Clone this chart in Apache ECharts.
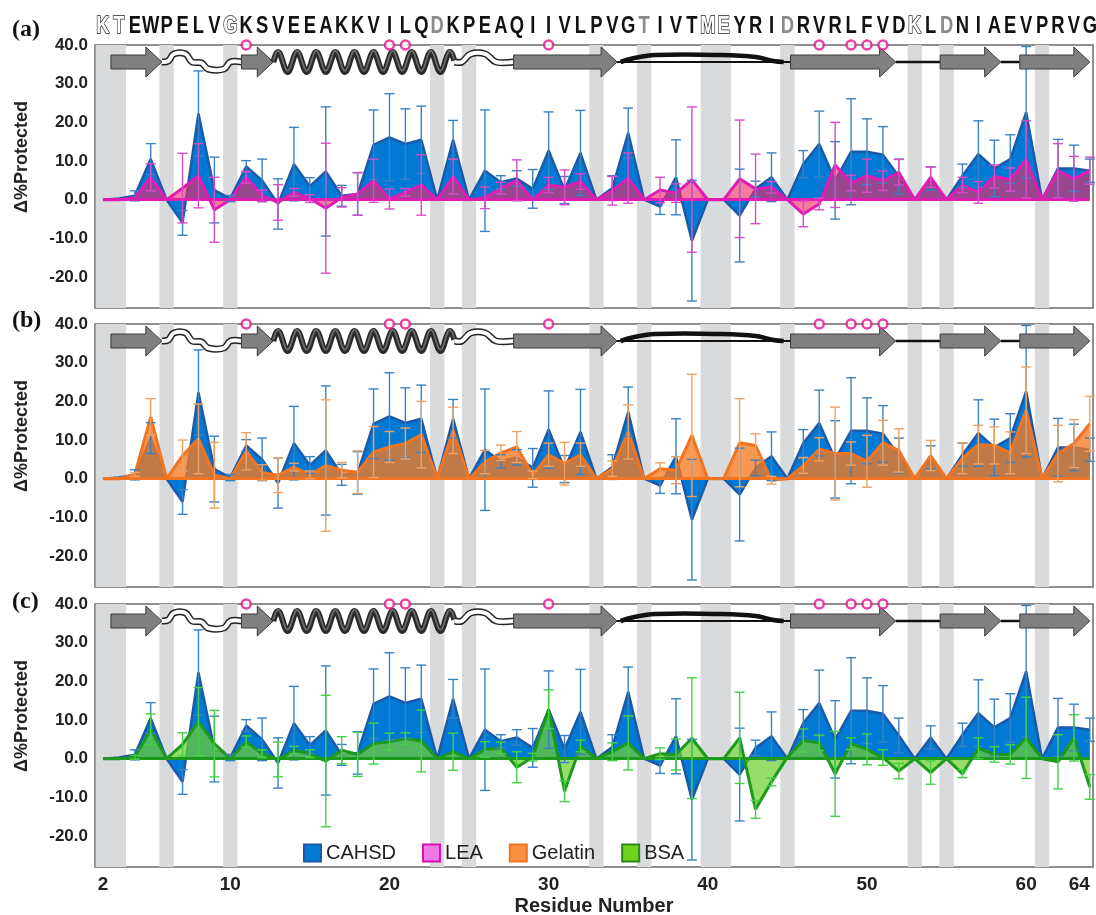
<!DOCTYPE html>
<html>
<head>
<meta charset="utf-8">
<script src="https://cdn.jsdelivr.net/npm/echarts@6/dist/echarts.min.js"></script>
<style>
  html, body { margin: 0; padding: 0; background: #ffffff; }
  #chart { width: 1096px; height: 915px; }
</style>
</head>
<body>
<div id="chart"></div>
<script>
// residue numbers and sequence
const residues = [2, 3, 4, 5, 6, 7, 8, 9, 10, 11, 12, 13, 14, 15, 16, 17, 18, 19, 20, 21,
  22, 23, 24, 25, 26, 27, 28, 29, 30, 31, 32, 33, 34, 35, 36, 37, 38, 39, 40, 41,
  42, 43, 44, 45, 46, 47, 48, 49, 50, 51, 52, 53, 54, 55, 56, 57, 58, 59, 60, 61,
  62, 63, 64];
const sequence = "KTEWPELVGKSVEEAKKVILQDKPEAQIIVLPVGTIVTMEYRIDRVRLFVDKLDNIAEVPRVG";
const outlinedResidues = [2, 3, 10, 40, 41, 53];
const grayResidues = [23, 36, 45, 55];
const bandResidues = [2, 3, 6, 10, 23, 25, 33, 36, 40, 41, 45, 53, 55, 61];
const markedResidues = [11, 20, 21, 30, 47, 49, 50, 51];
const xTickLabels = [2, 10, 20, 30, 40, 50, 60, 64];
const yTickLabels = [-20, -10, 0, 10, 20, 30, 40];

// secondary structure cartoon (residue ranges)
const strands = [[2.5, 5.7], [10.7, 12.7], [27.8, 34.3], [45.2, 51.8], [54.6, 58.4], [59.6, 64.0]];
const helices = [[12.7, 24.1]];
const waveLoops = [[5.7, 10.7]];
const humpLoops = [[24.1, 27.8]];
const arcLoops = [[34.3, 45.2]];
const coils = [[51.8, 54.6], [58.4, 59.6]];

// delta % protected, residues 2..64
const cahsd = [0, 0.3, 1, 10.5, 0, -6, 22.3, 2.5, 0.3, 8.6,
  5, -1.1, 9.2, 3.5, 7.3, 1, 1.5, 14.2, 16.1, 14.4,
  15.5, 0, 15.5, 0, 7.5, 4.5, 5.5, 2.8, 12.7, 2.5,
  12.1, 0, 3, 17.3, 0, -1.8, 5.8, -10.6, 0, 0,
  -4.1, 2.8, 5.8, 0, 9.2, 14.4, 5, 12.4, 12.4, 11.6,
  6, 0, 5.5, 0, 6.2, 11.8, 8.1, 10.5, 22.6, 0,
  8.1, 8.1, 7.5];
const cahsdErr = [0, 0, 1.3, 4, 0, 3.2, 11, 8.5, 0.8, 1.5,
  5.5, 6.5, 9.5, 2.2, 16.7, 2.7, 5.5, 9, 11.3, 9.1,
  8.7, 0, 5, 0, 15.7, 1.7, 2, 5, 10, 3.5,
  11, 0, 3.2, 6.4, 0, 2, 9.7, 15.6, 0, 0,
  12, 2, 6.3, 0, 3.5, 8.5, 10, 13.7, 8.5, 7.3,
  4.5, 0, 3, 0, 3, 8.6, 7.3, 6.3, 17, 0,
  7.5, 6, 3];
const lea = [0, 0, 0.5, 5.8, 0, 3, 6.2, -2.6, 0, 5.8,
  1, -0.7, 1.9, 0.3, -2.2, 0.6, 1.5, 4.9, 0.2, 1.9,
  3.8, 0, 6, 0, 0.5, 3, 5, 0, 3.8, 3.2,
  4.7, 0, 2.3, 5.6, 0, 2.5, 1.7, 5.2, 0, 0,
  5.4, 2.8, 3.2, 0, -3.7, -1.1, 9, 4.3, 6.2, 4.9,
  7.1, 0, 5.8, 0, 3.8, 1.9, 6, 5.2, 10.4, 0,
  7.5, 5.4, 7.5];
const leaErr = [0, 0, 0, 3.5, 0, 9, 8.3, 8.4, 0, 1.5,
  1.5, 4.6, 1, 1, 16.8, 2.5, 5.5, 5.6, 2.6, 1,
  7.8, 0, 4.5, 0, 2.8, 1.5, 5.3, 0, 2, 4.5,
  2, 0, 3.7, 6.5, 0, 3.3, 2.4, 18.8, 0, 0,
  15.2, 9, 1.5, 0, 3.3, 1.5, 11, 2, 4.3, 2.5,
  3.3, 0, 2.6, 0, 2, 2.8, 3, 3, 10, 0,
  7, 5.8, 3.5];
const gelatin = [0, 0, 1.1, 16, 0, 6, 10.3, 0.9, 0, 7.1,
  1.6, 0.9, 3, 1, 3.4, 2.2, 1.7, 6.9, 8.2, 9.1,
  11.4, 0, 12.5, 0, 4.3, 6.7, 8.2, 1, 6.2, 3.9,
  6.2, 0, 2.6, 12.1, 0, 2.6, 2.2, 11.2, 0, 0,
  9.3, 8.6, -0.4, 0, 3.4, 7.6, 6.5, 6.5, 4.5, 9.3,
  7.3, 0, 6, 0, 5.3, 8.8, 8.6, 6.7, 17.7, 0,
  6.5, 9.1, 14.2];
const gelatinErr = [0, 0, 0.5, 4.7, 0, 4, 9, 8.5, 0, 4.8,
  2, 4.5, 1, 1, 17, 2, 5.5, 6.6, 4, 4,
  8.6, 0, 6, 0, 3, 2, 4, 1, 3, 5.5,
  3, 0, 2, 7, 0, 1.5, 3.5, 15.8, 0, 0,
  11.4, 3, 1, 0, 2, 3, 12, 3, 6.7, 5.8,
  5.6, 0, 3.9, 0, 4, 5, 4.8, 5.4, 11.2, 0,
  7.3, 6.2, 7.1];
const bsa = [0, 0, 0.4, 7.6, 0, 3.7, 9.6, 3.9, 0, 4.4,
  1.3, -0.2, 2.2, 1.3, -0.6, 2.2, 1.1, 3.9, 4.4, 5.2,
  4.6, 0, 1.8, 0, 2.4, 2.8, -2.2, 0.4, 12.8, -8.4,
  3.3, 0, 1.8, 4.1, 0, 1.3, 1.1, 5.3, 0, 0,
  5.4, -13.1, -6, 0.4, 4.7, 4.1, -3.9, 3.9, 2.4, 0.3,
  -3.2, 0, -3.6, 0, -3.9, 2.7, 1.1, 1.1, 5.4, 0,
  -0.8, 5.4, -7.3];
const bsaErr = [0, 0, 0.5, 4, 0, 3, 8.8, 8.6, 0, 1.5,
  1, 4.5, 1, 1, 17, 3.5, 5.7, 5.3, 2.2, 1.5,
  8, 0, 4.8, 0, 2, 1.5, 4, 1, 5, 2.7,
  1.5, 0, 2.3, 7, 0, 1.5, 4, 15.6, 0, 0,
  11.8, 2.3, 1, 0, 3, 2, 11, 1.5, 4, 2,
  2, 0, 3, 0, 1, 2.7, 2, 2.5, 10.5, 0,
  7, 6, 3.2];

const FONT = "'Liberation Sans', Arial, sans-serif";
const styles = {
  CAHSD: { line: "#1a5aa8", fill: "rgb(0,122,212)", err: "#3a82c4", legendBorder: "#1a5aa8" },
  LEA: { line: "#e01cb4", fill: "rgba(245,40,100,0.62)", err: "#d94cc8", legendFill: "#f07ae6", legendBorder: "#d613b0" },
  Gelatin: { line: "#f27420", fill: "rgba(246,122,32,0.78)", err: "#f0a262", legendFill: "#f7913f", legendBorder: "#f27420" },
  BSA: { line: "#1d9a1d", fill: "rgba(112,206,48,0.72)", err: "#44d244", legendFill: "#6fd21c", legendBorder: "#2a8a16" }
};

const panels = [
  { label: "(a)", top: 45, labelY: 31, other: "LEA", values: lea, errs: leaErr },
  { label: "(b)", top: 324, labelY: 322, other: "Gelatin", values: gelatin, errs: gelatinErr },
  { label: "(c)", top: 604, labelY: 603, other: "BSA", values: bsa, errs: bsaErr }
];
const yMin = -28, yMax = 40;

// merge neighbouring band residues
const bandRanges = [];
bandResidues.forEach(r => {
  const last = bandRanges[bandRanges.length - 1];
  if (last && last.to === r - 1) { last.to = r; } else { bandRanges.push({ from: r, to: r }); }
});

const cartoonElements = [
  ...coils.map(r => ({ kind: "coil", r })),
  ...arcLoops.map(r => ({ kind: "arc", r })),
  ...waveLoops.map(r => ({ kind: "wave", r })),
  ...humpLoops.map(r => ({ kind: "hump", r })),
  ...strands.map(r => ({ kind: "strand", r })),
  ...helices.map(r => ({ kind: "helix", r }))
];

function relPoints(x0, x1, yc, rel) {
  return rel.map(([f, dy]) => [x0 + f * (x1 - x0), yc + dy]);
}

function renderCartoon(params, api) {
  const el = cartoonElements[params.dataIndex];
  const p0 = api.coord([api.value(0), yMax]);
  const p1 = api.coord([api.value(1), yMax]);
  const x0 = p0[0], x1 = p1[0], yc = p0[1] + 17;
  if (el.kind === "strand") {
    const h = 16;
    return {
      type: "polygon",
      shape: { points: [[x0, yc - 7], [x1 - h, yc - 7], [x1 - h, yc - 15], [x1, yc], [x1 - h, yc + 15], [x1 - h, yc + 7], [x0, yc + 7]] },
      style: { fill: "#808080", stroke: "#3a3a3a", lineWidth: 1 }
    };
  }
  if (el.kind === "coil") {
    return { type: "line", shape: { x1: x0, y1: yc, x2: x1, y2: yc }, style: { stroke: "#111", lineWidth: 2.5 } };
  }
  if (el.kind === "arc") {
    const pts = relPoints(x0, x1, yc, [[0.02, 0], [0.1, -4], [0.22, -7], [0.6, -7], [0.8, -5], [0.9, -1], [0.96, 0]]);
    return {
      type: "group",
      children: [
        { type: "line", shape: { x1: x0, y1: yc, x2: x1, y2: yc }, style: { stroke: "#111", lineWidth: 2 } },
        { type: "polyline", shape: { points: pts, smooth: 0.4 }, style: { stroke: "#111", lineWidth: 4.5, fill: null } }
      ]
    };
  }
  if (el.kind === "wave" || el.kind === "hump") {
    const rel = el.kind === "wave"
      ? [[0, 0], [0.08, -1], [0.15, -8], [0.3, -8], [0.38, 0], [0.5, 1], [0.58, 7], [0.78, 7], [0.86, 0], [1, 0]]
      : [[0, 0], [0.12, 0], [0.27, -8], [0.52, -8], [0.7, 0], [1, 0]];
    const pts = relPoints(x0, x1, yc, rel);
    return {
      type: "group",
      children: [
        { type: "polyline", shape: { points: pts, smooth: 0.35 }, style: { stroke: "#222", lineWidth: 7, fill: null } },
        { type: "polyline", shape: { points: pts, smooth: 0.35 }, style: { stroke: "#fff", lineWidth: 4, fill: null } }
      ]
    };
  }
  // helix
  const turns = 9.5;
  const period = (x1 - x0) / turns;
  const pts = [];
  for (let x = x0; x <= x1; x += 1) {
    pts.push([x, yc - 10 * Math.sin(2 * Math.PI * (x - x0) / period)]);
  }
  return {
    type: "group",
    children: [
      { type: "polyline", shape: { points: pts }, style: { stroke: "#2a2a2a", lineWidth: 6, fill: null, lineJoin: "round" } },
      { type: "polyline", shape: { points: pts.map(p => [p[0], p[1] - 1.2]) }, style: { stroke: "#6a6a6a", lineWidth: 1.8, fill: null } }
    ]
  };
}

function renderBand(params, api) {
  const a = api.coord([api.value(0), yMax]);
  const b = api.coord([api.value(1), yMin]);
  return { type: "rect", shape: { x: a[0], y: a[1], width: b[0] - a[0], height: b[1] - a[1] }, style: { fill: "#d9dadc" } };
}

function errorRenderer(color) {
  return function (params, api) {
    const lo = api.coord([api.value(0), api.value(1)]);
    const hi = api.coord([api.value(0), api.value(2)]);
    const w = 5;
    const st = { stroke: color, lineWidth: 1.4 };
    return {
      type: "group",
      children: [
        { type: "line", shape: { x1: lo[0], y1: lo[1], x2: hi[0], y2: hi[1] }, style: st },
        { type: "line", shape: { x1: lo[0] - w, y1: lo[1], x2: lo[0] + w, y2: lo[1] }, style: st },
        { type: "line", shape: { x1: hi[0] - w, y1: hi[1], x2: hi[0] + w, y2: hi[1] }, style: st }
      ]
    };
  };
}

function areaSeries(name, values, idx, z) {
  return {
    name, type: "line", xAxisIndex: idx, yAxisIndex: idx, z, silent: true,
    data: residues.map((r, i) => [r, values[i]]),
    symbol: "none",
    lineStyle: { color: styles[name].line, width: name === "CAHSD" ? 2.5 : 3 },
    itemStyle: { color: styles[name].fill },
    areaStyle: { color: styles[name].fill, opacity: 1 }
  };
}

function errorSeries(name, values, errs, idx, z) {
  const data = [];
  residues.forEach((r, i) => {
    if (errs[i] > 0) data.push([r, values[i] - errs[i], values[i] + errs[i]]);
  });
  return {
    name, type: "custom", xAxisIndex: idx, yAxisIndex: idx, z, silent: true,
    data, encode: { x: 0, y: [1, 2] },
    renderItem: errorRenderer(styles[name].err)
  };
}

const grids = [], xAxes = [], yAxes = [], series = [], graphics = [];

panels.forEach((p, idx) => {
  grids.push({
    left: 95, top: p.top, width: 998, height: 263, show: true,
    borderColor: "#6b6b6b", borderWidth: 1.5, outerBoundsMode: "none", containLabel: false
  });
  const isLast = idx === panels.length - 1;
  xAxes.push({
    gridIndex: idx, type: "value", min: 1.5, max: 64.2, show: isLast,
    axisLine: { show: false }, axisTick: { show: false }, splitLine: { show: false },
    axisLabel: {
      customValues: xTickLabels, formatter: v => String(v), alignMaxLabel: "right",
      fontFamily: FONT, fontWeight: "bold", fontSize: 19, color: "#222", margin: 8
    },
    name: isLast ? "Residue Number" : "",
    nameLocation: "middle", nameGap: 29,
    nameTextStyle: { fontFamily: FONT, fontWeight: "bold", fontSize: 20, color: "#222" }
  });
  yAxes.push({
    gridIndex: idx, type: "value", min: yMin, max: yMax,
    axisLine: { show: false }, axisTick: { show: false }, splitLine: { show: false },
    axisLabel: {
      customValues: yTickLabels, formatter: v => v.toFixed(1),
      fontFamily: FONT, fontWeight: "bold", fontSize: 17, color: "#222", margin: 7
    }
  });

  series.push({
    type: "custom", xAxisIndex: idx, yAxisIndex: idx, z: 1, silent: true,
    data: bandRanges.map(b => [b.from - 0.45, b.to + 0.45]),
    renderItem: renderBand
  });
  series.push(areaSeries("CAHSD", cahsd, idx, 2));
  const other = areaSeries(p.other, p.values, idx, 3);
  other.markLine = {
    silent: true, symbol: "none", label: { show: false },
    lineStyle: { color: styles[p.other].line, width: 3, type: "solid" },
    data: [[{ coord: [residues[0], 0] }, { coord: [residues[residues.length - 1], 0] }]]
  };
  series.push(other);
  series.push(errorSeries("CAHSD", cahsd, cahsdErr, idx, 4));
  series.push(errorSeries(p.other, p.values, p.errs, idx, 5));
  series.push({
    type: "custom", xAxisIndex: idx, yAxisIndex: idx, z: 6, silent: true, clip: false,
    data: cartoonElements.map(e => [e.r[0], e.r[1]]),
    renderItem: renderCartoon
  });
  series.push({
    type: "scatter", xAxisIndex: idx, yAxisIndex: idx, z: 7, silent: true, clip: false,
    data: markedResidues.map(r => [r, yMax]),
    symbol: "circle", symbolSize: 9,
    itemStyle: { color: "#ffffff", borderColor: "#e0158c", borderWidth: 2.5 }
  });

  graphics.push({
    type: "text", left: 12, top: p.labelY - 13,
    style: { text: p.label, font: "bold 24px 'Liberation Serif', 'Times New Roman', serif", fill: "#111" }
  });
  graphics.push({
    type: "text", x: 22, y: p.top + 112, rotation: Math.PI / 2,
    style: { text: "Δ%Protected", font: "bold 18px " + FONT, fill: "#222", align: "center", verticalAlign: "middle" }
  });
});

// sequence letters above panel (a)
series.push({
  type: "custom", xAxisIndex: 0, yAxisIndex: 0, z: 8, silent: true, clip: false,
  data: residues.map(r => [r, yMax]),
  renderItem(params, api) {
    const pt = api.coord([api.value(0), yMax]);
    const r = residues[params.dataIndex];
    const outlined = outlinedResidues.includes(r);
    const gray = grayResidues.includes(r);
    return {
      type: "text", x: pt[0], y: pt[1] - 18, scaleX: 0.8,
      style: {
        text: sequence[params.dataIndex],
        font: "bold 23px " + FONT,
        fill: outlined ? "#ffffff" : (gray ? "#8a8a8a" : "#111111"),
        stroke: outlined ? "#222222" : null,
        lineWidth: outlined ? 1.5 : 0,
        align: "center", verticalAlign: "middle"
      }
    };
  }
});

const chart = echarts.init(document.getElementById("chart"), null, { renderer: "canvas" });
chart.setOption({
  animation: false,
  backgroundColor: "#ffffff",
  grid: grids,
  xAxis: xAxes,
  yAxis: yAxes,
  legend: {
    left: 298, top: 838, icon: "rect", itemWidth: 17, itemHeight: 17, itemGap: 26,
    selectedMode: false,
    textStyle: { fontFamily: FONT, fontSize: 20, color: "#222" },
    data: [
      { name: "CAHSD", itemStyle: { color: styles.CAHSD.fill, borderColor: styles.CAHSD.legendBorder, borderWidth: 2 } },
      { name: "LEA", itemStyle: { color: styles.LEA.legendFill, borderColor: styles.LEA.legendBorder, borderWidth: 2 } },
      { name: "Gelatin", itemStyle: { color: styles.Gelatin.legendFill, borderColor: styles.Gelatin.legendBorder, borderWidth: 2 } },
      { name: "BSA", itemStyle: { color: styles.BSA.legendFill, borderColor: styles.BSA.legendBorder, borderWidth: 2 } }
    ]
  },
  graphic: graphics,
  series
});
</script>
</body>
</html>
